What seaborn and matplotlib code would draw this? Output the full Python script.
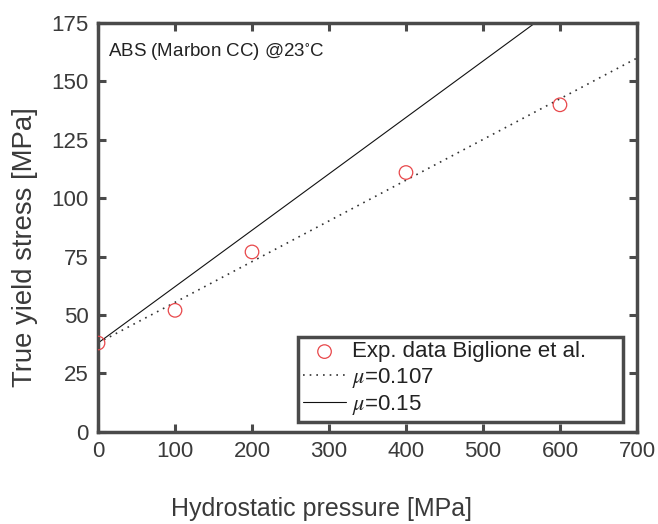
import numpy as np
import pandas as pd
import matplotlib
matplotlib.use("Agg")
import matplotlib.pyplot as plt
import seaborn as sns

# experimental data (Biglione et al.)
pressure = [0, 100, 200, 400, 600]
yield_stress = [38, 52, 77, 111, 140]

# model lines, endpoints
line_x = [0, 700]
fit_0107 = [38, 160]
fit_015 = [38, 207]

sns.set_style("ticks")
plt.rcParams['font.family'] = ['Liberation Sans', 'DejaVu Sans']
plt.rcParams['mathtext.fontset'] = 'stix'

frame_col = '#4a4a4a'
text_col = '#3a3a3a'

fig = plt.figure(figsize=(6.58, 5.24), dpi=100)
ax = fig.add_axes([0.149, 0.176, 0.819, 0.78])

exp_df = pd.DataFrame({'p': pressure, 's': yield_stress})
lines_df = pd.DataFrame({'p': line_x, 'a': fit_0107, 'b': fit_015})

sns.scatterplot(data=exp_df, x='p', y='s', ax=ax, marker='o', s=95,
                facecolor='none', edgecolor='#e8474a', linewidth=0.9,
                label='Exp. data Biglione et al.', zorder=3)
sns.lineplot(data=lines_df, x='p', y='a', ax=ax, color='#333333',
             linestyle=(0, (1, 3)), linewidth=1.2, label=r'$\mu$=0.107')
sns.lineplot(data=lines_df, x='p', y='b', ax=ax, color='#111111',
             linewidth=0.8, label=r'$\mu$=0.15')

ax.set_xlim(0, 700)
ax.set_ylim(0, 175)
ax.set_xticks(np.arange(0, 701, 100))
ax.set_yticks(np.arange(0, 176, 25))
ax.tick_params(direction='in', length=6, width=2.2, color=frame_col,
               labelsize=16, labelcolor=text_col, top=True, right=True, pad=7)
for sp in ax.spines.values():
    sp.set_linewidth(2.5)
    sp.set_color(frame_col)

ax.set_xlabel('Hydrostatic pressure [MPa]', fontsize=18, color=text_col)
ax.set_ylabel('True yield stress [MPa]', fontsize=19.8, color=text_col)
ax.xaxis.set_label_coords(0.414, -0.19)
ax.yaxis.set_label_coords(-0.135, 0.452)
ax.xaxis.label.set_va('center')
ax.yaxis.label.set_va('center')

ax.text(0.018, 0.955, r'ABS (Marbon CC) @23$^{\circ}$C', transform=ax.transAxes,
        fontsize=13.5, color='#222222', va='top', ha='left')

leg = ax.legend(loc='lower left', bbox_to_anchor=(0.371, 0.024, 0.603, 0.2),
                mode='expand', fontsize=16, frameon=True, fancybox=False,
                framealpha=1, borderpad=0.22, handlelength=1.95,
                handletextpad=0.27, labelspacing=0.15, borderaxespad=0)
leg.get_frame().set_edgecolor(frame_col)
leg.get_frame().set_linewidth(2.5)
for t in leg.get_texts():
    t.set_color('#222222')

fig.savefig('out.png', dpi=100)
